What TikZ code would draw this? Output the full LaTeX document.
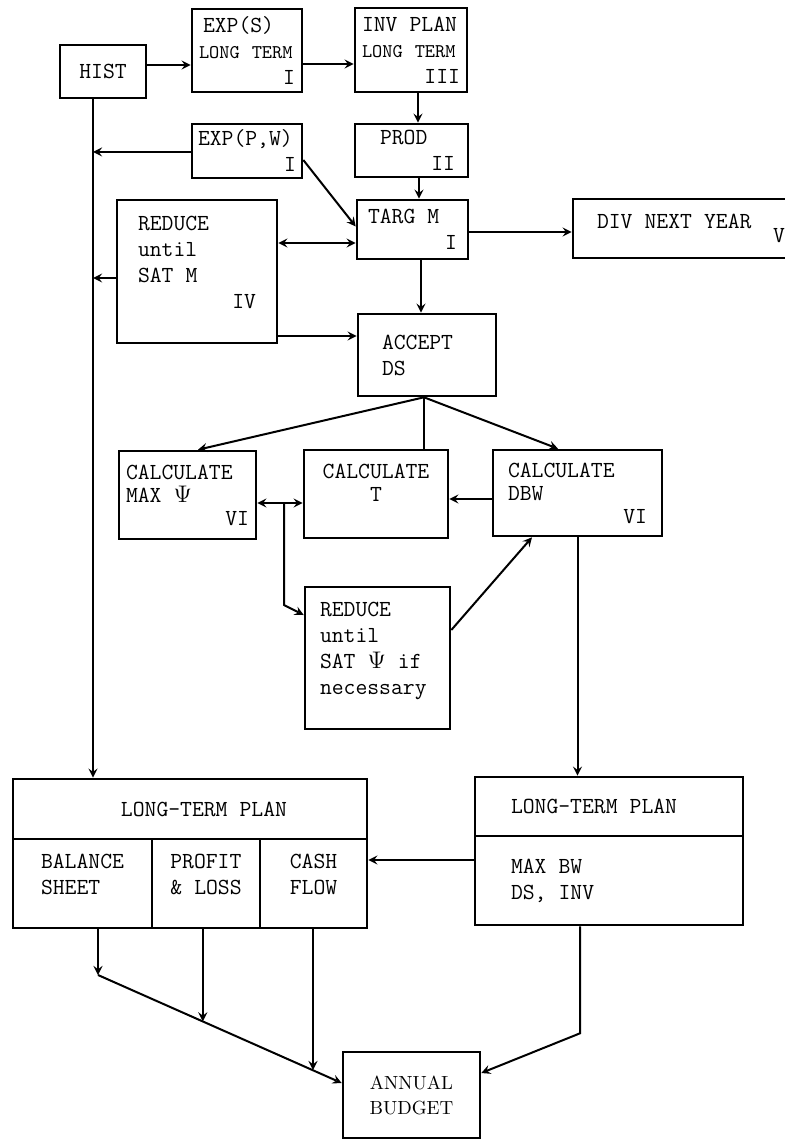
\documentclass[tikz,border=0pt]{standalone}
\usepackage{tikz}
\usetikzlibrary{arrows,calc}

\begin{document}
\begin{tikzpicture}[
    x=0.5pt, y=-0.5pt,
    box/.style={draw, line width=1.3pt, align=left, inner xsep=2.5pt, inner ysep=1.5pt, font=\fontsize{11.5}{13}\selectfont\ttfamily, execute at begin node={\spaceskip=0.525em\relax}},
    calcbox/.style={box, font=\fontsize{11.5}{11.5}\selectfont\ttfamily},
    arrow/.style={->, >=stealth, line width=1pt},
    link/.style={line width=1pt}
]
\useasboundingbox (0,0) rectangle (784,1139);

% Top rows
\node[box, align=center, minimum width=43pt, minimum height=26.5pt] (hist) at (103,71.5) {HIST};
\node[box, text width=48pt, minimum width=55pt, minimum height=41.5pt] (exps) at (247,50.5) {\hspace*{2pt}EXP(S)\\{\fontsize{9.7}{13}\selectfont LONG TERM}\\\hspace*{\fill}I\hspace*{4pt}};
\node[box, text width=49pt, minimum width=56pt, minimum height=42pt] (invplan) at (411,50) {INV PLAN\\{\fontsize{9.7}{13}\selectfont LONG TERM}\\\hspace*{\fill}III};
\node[box, text width=43.5pt, minimum width=56.5pt, minimum height=26.5pt] (prod) at (411.5,150.5) {\hspace*{6pt}PROD\\\hspace*{\fill}II};
\node[box, text width=49pt, minimum width=55pt, minimum height=27pt] (exppw) at (247,151) {EXP(P,W)\\\hspace*{\fill}I\hspace*{10pt}};
\node[box, text width=44.5pt, minimum width=55.5pt, minimum height=29.5pt] (targ) at (412.5,229.5) {TARG M\\\hspace*{\fill}I};
\node[box, text width=94pt, minimum width=118pt, minimum height=29.5pt] (div) at (691,228.5) {DIV NEXT YEAR\\[-6pt]\hspace*{\fill}V};
\node[box, text width=59pt, minimum width=80pt, minimum height=71.5pt] (redm) at (197,271.5) {REDUCE\\until\\SAT M\\\hspace*{\fill}IV\\[-4pt]\mbox{}};
\node[box, text width=45pt, minimum width=69pt, minimum height=41pt] (accept) at (427,355) {ACCEPT\\DS};

% Calculation row
\node[calcbox, text width=61.5pt, minimum width=68.5pt, minimum height=44pt] (calcpsi) at (187.5,495) {CALCULATE\\MAX $\Psi$\\\hspace*{\fill}VI\hspace*{5pt}};
\node[calcbox, align=center, minimum width=72pt, minimum height=44pt] (calct) at (376,494) {CALCULATE\\T\\\mbox{}};
\node[calcbox, text width=69.5pt, minimum width=84.5pt, minimum height=43pt] (calcdbw) at (577.5,493) {CALCULATE\\DBW\\\hspace*{\fill}VI};
\node[box, text width=57.5pt, minimum width=72.5pt, minimum height=71pt] (redpsi) at (377.5,658) {REDUCE\\until\\SAT $\Psi$ if\\necessary\\[-3pt]\mbox{}};

% Long-term plans
\node[box, align=center, minimum width=177pt, minimum height=30pt] (ltptop) at (190,809) {\hspace*{14pt}LONG-TERM PLAN};
\node[box, minimum width=69.5pt, minimum height=44.5pt] (bal) at (82.5,883.5) {BALANCE\\SHEET\\[-4pt]\mbox{}};
\node[box, minimum width=54pt, minimum height=44.5pt] (pl) at (206,883.5) {PROFIT\\\& LOSS\\[-4pt]\mbox{}};
\node[box, minimum width=53.5pt, minimum height=44.5pt] (cash) at (313.5,883.5) {CASH\\FLOW\\[-4pt]\mbox{}};
\node[box, text width=98pt, minimum width=134pt, minimum height=29.5pt] (ltprtop) at (609,806.5) {LONG-TERM PLAN};
\node[box, text width=98pt, minimum width=134pt, minimum height=44.5pt] (ltprbot) at (609,880.5) {MAX BW\\DS, INV};

% Budget
\node[box, align=center, font=\fontsize{9.5}{12.5}\selectfont\rmfamily, minimum width=68.5pt, minimum height=43pt] (annual) at (411.5,1095) {ANNUAL\\BUDGET};

% Points on lines
\coordinate (hp) at (93,152);
\coordinate (hm) at (93,278);
\coordinate (fan) at ($(accept.south)+(-3,0)$);
\coordinate (jn) at (284,503);
\coordinate (b1) at (98,975);
\coordinate (b3) at (313,1070);
\path (b1) -- (annual.west |- 0,1083) coordinate[pos=0.43] (b2);

% Arrows
\draw[arrow] (hist.east |- 0,65) -- (exps.west |- 0,65);
\draw[arrow] (exps.east |- 0,64) -- (invplan.west |- 0,64);
\draw[arrow] (invplan.south -| 418,0) -- (prod.north -| 418,0);
\draw[arrow] (prod.south -| 419,0) -- (targ.north -| 419,0);
\draw[arrow] (targ.east |- 0,232) -- (div.west |- 0,232);
\draw[arrow] (hist.south -| 93,0) -- (ltptop.north -| 93,0);
\draw[arrow] (exppw.west |- hp) -- (hp);
\draw[arrow] ($(exppw.east)+(0,9)$) -- ($(targ.west)+(0,-3)$);
\draw[arrow, <->] (redm.east |- 0,243) -- (targ.west |- 0,243);
\draw[arrow] (redm.west |- hm) -- (hm);
\draw[arrow] (redm.east |- 0,336) -- (accept.west |- 0,336);
\draw[arrow] (targ.south -| 421,0) -- (accept.north -| 421,0);
\draw[arrow] (fan) -- (calcpsi.north -| 198,0);
\draw[link] (fan) -- (calct.north -| fan);
\draw[arrow] (fan) -- (calcdbw.north -| 558,0);
\draw[arrow] (calcdbw.west |- 0,499) -- (calct.east |- 0,499);
\draw[arrow, <->] (calcpsi.east |- jn) -- (calct.west |- jn);
\draw[arrow] (jn) -- ++(0,102) -- (redpsi.west |- 0,615);
\draw[arrow] (redpsi.east |- 0,630) -- (calcdbw.south -| 532,0);
\draw[arrow] (calcdbw.south) -- (ltprtop.north -| calcdbw.south);
\draw[arrow] (ltprbot.west |- 0,860) -- (cash.east |- 0,860);
\draw[arrow] (bal.south -| b1) -- (b1);
\draw[arrow] (b1) -- (annual.west |- 0,1083);
\draw[arrow] (pl.south -| b2) -- (b2);
\draw[arrow] (cash.south -| b3) -- (b3);
\draw[arrow] (ltprbot.south -| 580,0) -- ++(0,107) -- (annual.east |- 0,1073);

\end{tikzpicture}
\end{document}
